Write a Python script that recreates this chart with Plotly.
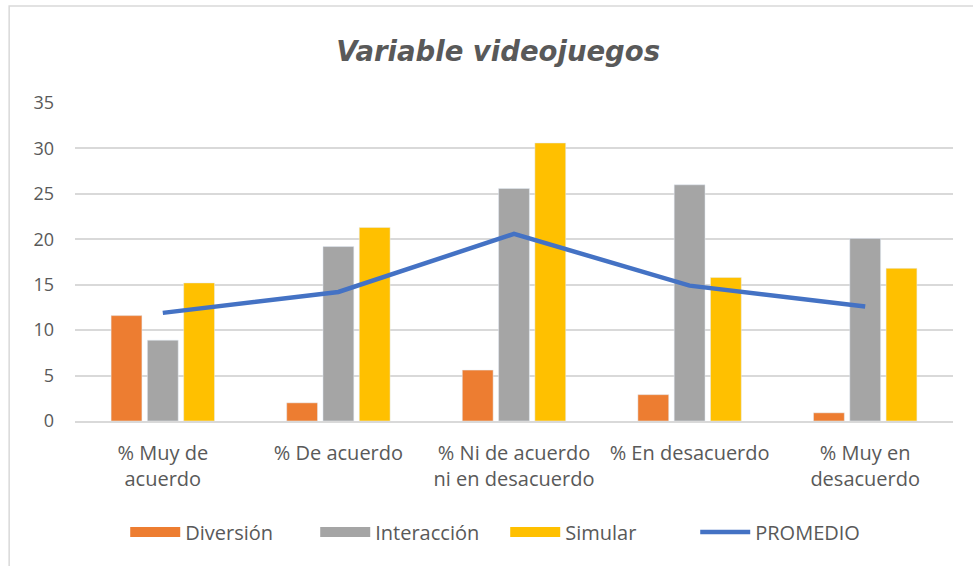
import plotly.graph_objects as go

# Categories and series
categorias = ["% Muy de<br>acuerdo", "% De acuerdo", "% Ni de acuerdo<br>ni en desacuerdo",
              "% En desacuerdo", "% Muy en<br>desacuerdo"]
diversion = [11.6, 2.0, 5.6, 2.9, 0.9]
interaccion = [8.9, 19.2, 25.6, 26.0, 20.1]
simular = [15.2, 21.3, 30.6, 15.8, 16.8]
promedio = [11.9, 14.2, 20.6, 14.9, 12.6]
y_ticks = [0, 5, 10, 15, 20, 25, 30, 35]

texto = "#595959"
series = [("Diversión", diversion, "#ED7D31"),
          ("Interacción", interaccion, "#A5A5A5"),
          ("Simular", simular, "#FFC000")]

fig = go.Figure()
for nombre, valores, color in series:
    fig.add_trace(go.Bar(x=categorias, y=valores, name=nombre, marker_color=color,
                         legendgroup=nombre, showlegend=False))
# wide legend swatches for the bars (Excel style)
for nombre, valores, color in series:
    fig.add_trace(go.Scatter(x=[None], y=[None], name=nombre, mode="lines", legendgroup=nombre,
                             line=dict(color=color, width=14)))
fig.add_trace(go.Scatter(x=categorias, y=promedio, name="PROMEDIO", mode="lines",
                         line=dict(color="#4472C4", width=4.5)))

fig.update_layout(
    width=973, height=566,
    margin=dict(l=75, r=20, t=103, b=145),
    paper_bgcolor="white", plot_bgcolor="white",
    barmode="group", bargap=0.38, bargroupgap=0.15,
    font=dict(family="Open Sans", size=18, color=texto),
    title=dict(text="<b><i>Variable videojuegos</i></b>", x=0.512, xanchor="center",
               y=0.91, yanchor="middle",
               font=dict(family="DejaVu Sans", size=27.5, color=texto)),
    legend=dict(orientation="h", x=0.49, xanchor="center", y=-0.349, yanchor="middle",
                itemwidth=50, entrywidth=125, font=dict(size=20, color=texto),
                traceorder="normal"),
    showlegend=True,
)
fig.update_xaxes(showgrid=False, showline=True, linecolor="#D9D9D9", linewidth=1.5,
                 ticks="", ticklabelstandoff=13, automargin=False,
                 tickfont=dict(size=20, color=texto))
fig.update_yaxes(range=[0, 35], tickvals=y_ticks, showgrid=True, gridcolor="#D9D9D9",
                 gridwidth=1.5, zeroline=False, showline=False, ticks="",
                 ticklabelstandoff=20, automargin=False, tickfont=dict(size=18, color=texto))

# light chart frame
fig.add_shape(type="rect", xref="paper", yref="paper", x0=-0.075, x1=1.03, y0=-0.47, y1=1.305,
              line=dict(color="#D9D9D9", width=1.5), fillcolor="rgba(0,0,0,0)", layer="below")

fig.write_html("out.html", config={"displayModeBar": False},
               post_script="document.body.style.margin='0px';")
